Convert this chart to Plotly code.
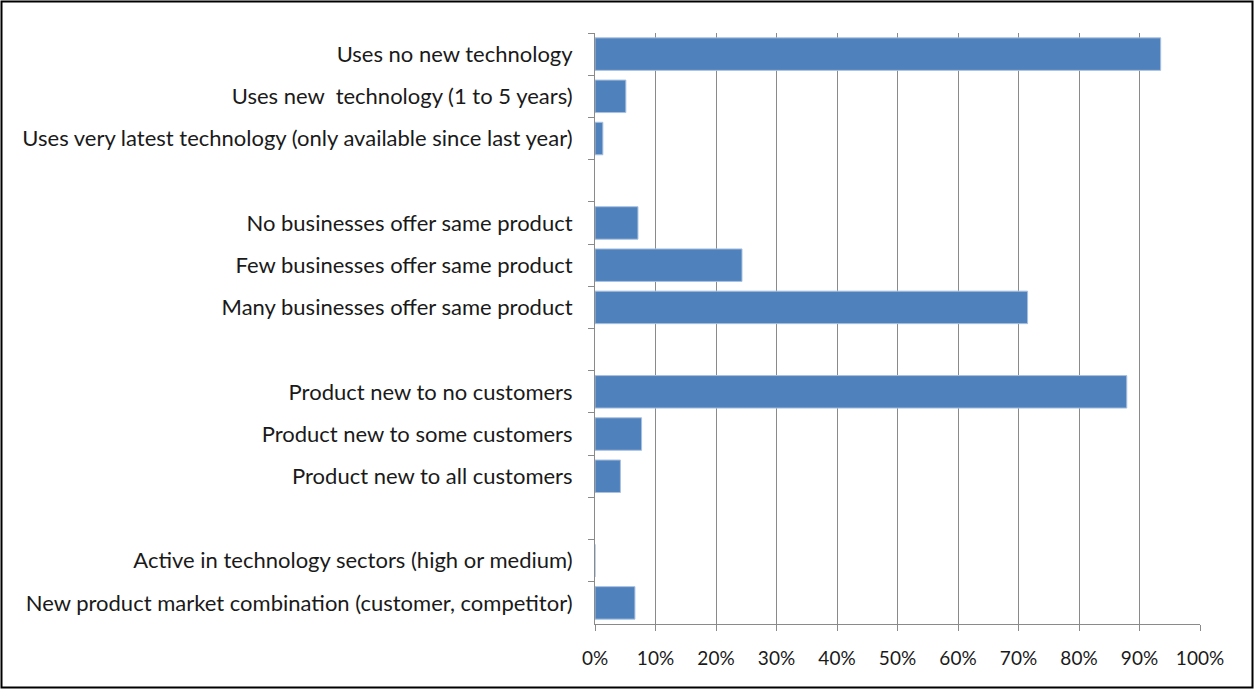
import plotly.graph_objects as go

# Survey shares by characteristic (fraction of businesses); blank entries separate the groups
categories = [
    "Uses no new technology",
    "Uses new  technology (1 to 5 years)",
    "Uses very latest technology (only available since last year)",
    " ",
    "No businesses offer same product",
    "Few businesses offer same product",
    "Many businesses offer same product",
    "  ",
    "Product new to no customers",
    "Product new to some customers",
    "Product new to all customers",
    "   ",
    "Active in technology sectors (high or medium)",
    "New product market combination (customer, competitor)",
]
shares = [0.935, 0.051, 0.013, None,
          0.071, 0.243, 0.715, None,
          0.879, 0.077, 0.042, None,
          0.0, 0.066]

tick_values = [i / 10 for i in range(11)]

W, H = 1255, 690
L, R, T, B = 595, 55, 33, 66
pw, ph = W - L - R, H - T - B

fig = go.Figure(
    go.Bar(
        x=shares,
        y=categories,
        orientation="h",
        marker=dict(color="#4F81BD", line=dict(color="#A9C1E0", width=1)),
        hoverinfo="x+y",
    )
)

grid = "#8A8A8A"
font = "Lato, 'Open Sans', sans-serif"

fig.update_layout(
    width=W,
    height=H,
    margin=dict(l=L, r=R, t=T, b=B),
    paper_bgcolor="white",
    plot_bgcolor="white",
    bargap=0.23,
    showlegend=False,
    font=dict(family=font, size=18, color="#1a1a1a"),
    xaxis=dict(
        range=[0, 1],
        tickvals=tick_values,
        tickformat=".0%",
        tickfont=dict(size=19),
        showgrid=True,
        gridcolor=grid,
        gridwidth=1,
        showline=True,
        linecolor=grid,
        linewidth=1,
        ticks="outside",
        ticklen=6,
        tickcolor=grid,
        zeroline=False,
        ticklabelstandoff=11,
        fixedrange=True,
    ),
    yaxis=dict(
        type="category",
        categoryorder="array",
        categoryarray=categories,
        autorange="reversed",
        tickfont=dict(size=22),
        showgrid=False,
        showline=True,
        linecolor=grid,
        linewidth=1,
        ticks="outside",
        tickson="boundaries",
        ticklen=6,
        tickcolor=grid,
        ticklabelstandoff=17,
        fixedrange=True,
    ),
    shapes=[
        # outer frame around the whole chart
        dict(
            type="rect",
            xref="paper",
            yref="paper",
            x0=(1.5 - L) / pw,
            x1=(W - 2.5 - L) / pw,
            y0=-(H - 2.5 - (T + ph)) / ph,
            y1=1 + (T - 1.5) / ph,
            line=dict(color="black", width=2),
            layer="above",
        )
    ],
)

fig.write_html("out.html")
